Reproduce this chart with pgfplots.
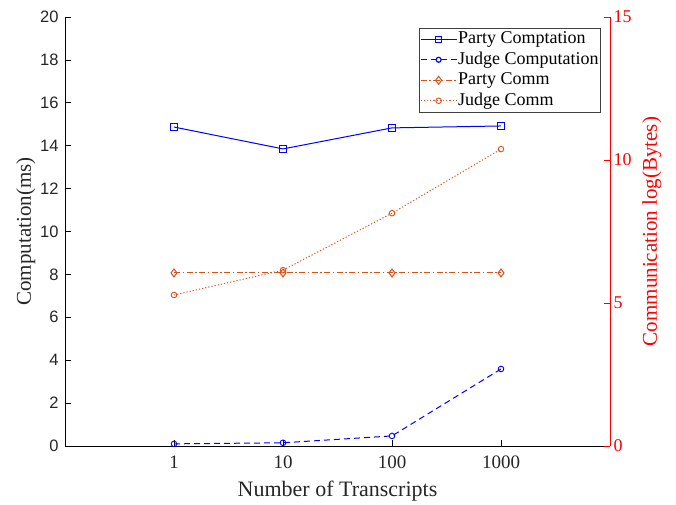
\documentclass[border=0pt]{standalone}
\usepackage{fontspec}
\setmainfont{Liberation Serif}
\setsansfont{Liberation Sans}
\usepackage{pgfplots}
\pgfplotsset{compat=1.18}
\definecolor{morange}{RGB}{217,83,25}
\pgfplotsset{
  longlegend/.style={legend image code/.code={
    \draw[mark repeat=2, mark phase=2, ##1] plot coordinates {(0pt,0pt) (18pt,0pt) (36pt,0pt)};}}
}
\begin{document}
\begin{tikzpicture}
\begin{axis}[
  name=ax,
  scale only axis, width=545pt, height=429pt,
  xmin=-1, xmax=4, ymin=0, ymax=20,
  axis x line*=bottom, axis y line*=left,
  xtick={0,1,2,3}, xticklabels={1,10,100,1000},
  ytick={0,2,...,20},
  tick align=inside, major tick length=6pt,
  tick style={black, line width=0.6pt},
  axis line style={black, line width=0.6pt},
  /pgf/number format/assume math mode=true,
  xticklabel style={font=\fontsize{19}{21}\selectfont, yshift=-6pt, color=black!85},
  yticklabel style={font=\sffamily\fontsize{16.5}{18}\selectfont, color=black!85, xshift=-3pt},
  xlabel={Number of Transcripts},
  ylabel={Computation(ms)},
  xlabel style={font=\fontsize{22}{24}\selectfont, yshift=-6pt, color=black!85},
  ylabel style={font=\fontsize{21}{23}\selectfont, yshift=-2pt, color=black!85},
  clip=false,
]
\addplot[blue, line width=1pt, mark=square, mark size=3.3pt, mark options={solid, line width=1pt}]
  coordinates {(0,14.87) (1,13.85) (2,14.83) (3,14.92)};
\addplot[blue, line width=1pt, dash pattern=on 6pt off 4pt, mark=o, mark size=2.8pt, mark options={solid, line width=0.9pt}]
  coordinates {(0,0.10) (1,0.15) (2,0.47) (3,3.59)};
\end{axis}
\begin{axis}[
  scale only axis, width=545pt, height=429pt,
  xmin=-1, xmax=4, ymin=0, ymax=15,
  axis x line=none, axis y line*=right,
  ytick={0,5,10,15},
  tick align=inside, major tick length=6pt,
  tick style={red, line width=0.6pt},
  axis line style={red, line width=0.6pt},
  /pgf/number format/assume math mode=true,
  yticklabel style={font=\fontsize{18}{20}\selectfont, color=red},
  ylabel={Communication log(Bytes)},
  ylabel style={font=\fontsize{21}{23}\selectfont, color=red, yshift=-4pt},
  longlegend,
  legend style={at={(0.9835,0.975)}, anchor=north east, draw=black!75, line width=0.6pt,
    fill=white, font=\fontsize{18}{20}\selectfont, inner sep=1pt,
    row sep=0pt, nodes={text height=13.5pt, text depth=5pt, inner sep=1pt},
    cells={anchor=west}},
  legend cell align=left,
  clip=false,
]
\addlegendimage{blue, line width=1.2pt, mark=square, mark size=3pt, mark options={solid}}
\addlegendentry{Party Comptation}
\addlegendimage{blue, line width=1.2pt, dash pattern=on 6pt off 4pt, mark=o, mark size=2.5pt, mark options={solid}}
\addlegendentry{Judge Computation}
\addplot[morange, line width=1pt, dash pattern=on 6pt off 2.5pt on 1.5pt off 2.5pt, mark=diamond, mark size=4pt, mark options={solid, line width=1pt}]
  coordinates {(0,6.05) (1,6.05) (2,6.05) (3,6.05)};
\addlegendentry{Party Comm}
\addplot[morange, line width=1pt, dash pattern=on 1.2pt off 2pt, mark=o, mark size=2.8pt, mark options={solid, line width=0.9pt}]
  coordinates {(0,5.28) (1,6.15) (2,8.14) (3,10.38)};
\addlegendentry{Judge Comm}
\end{axis}
\path (ax.south west) ++(-65pt,-56pt) rectangle ++(676pt,502pt);
\end{tikzpicture}
\end{document}
